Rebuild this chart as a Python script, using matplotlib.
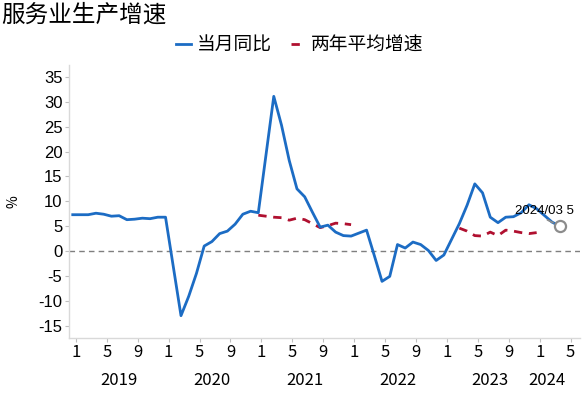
import matplotlib
matplotlib.use("Agg")
import matplotlib.pyplot as plt
import matplotlib.transforms as mtransforms
import numpy as np

plt.rcParams['font.family'] = ['Noto Sans CJK SC', 'DejaVu Sans']

# 当月同比 (Jan is merged into Feb, so no January points)
yoy_months = ['2018-12',
              '2019-02', '2019-03', '2019-04', '2019-05', '2019-06', '2019-07',
              '2019-08', '2019-09', '2019-10', '2019-11', '2019-12',
              '2020-02', '2020-03', '2020-04', '2020-05', '2020-06', '2020-07',
              '2020-08', '2020-09', '2020-10', '2020-11', '2020-12',
              '2021-02', '2021-03', '2021-04', '2021-05', '2021-06', '2021-07',
              '2021-08', '2021-09', '2021-10', '2021-11', '2021-12',
              '2022-02', '2022-03', '2022-04', '2022-05', '2022-06', '2022-07',
              '2022-08', '2022-09', '2022-10', '2022-11', '2022-12',
              '2023-02', '2023-03', '2023-04', '2023-05', '2023-06', '2023-07',
              '2023-08', '2023-09', '2023-10', '2023-11', '2023-12',
              '2024-02', '2024-03']
yoy = [7.3,
       7.3, 7.6, 7.4, 7.0, 7.1, 6.3, 6.4, 6.6, 6.5, 6.8, 6.8,
       -13.0, -9.1, -4.5, 1.0, 1.9, 3.5, 4.0, 5.4, 7.4, 8.0, 7.7,
       31.1, 25.3, 18.2, 12.5, 10.9, 7.8, 4.8, 5.2, 3.8, 3.1, 3.0,
       4.2, -0.9, -6.1, -5.1, 1.3, 0.6, 1.8, 1.3, 0.1, -1.9, -0.8,
       5.5, 9.2, 13.5, 11.7, 6.8, 5.7, 6.8, 6.9, 7.7, 9.3, 8.5,
       5.8, 5.0]

# 两年平均增速
avg_months_a = ['2020-12', '2021-02', '2021-03', '2021-04', '2021-05', '2021-06',
                '2021-07', '2021-08', '2021-09', '2021-10', '2021-11', '2021-12']
avg_a = [7.2, 6.8, 6.7, 6.2, 6.6, 6.3, 5.5, 4.7, 5.1, 5.6, 5.5, 5.3]
avg_months_b = ['2023-02', '2023-03', '2023-04', '2023-05', '2023-06', '2023-07',
                '2023-08', '2023-09', '2023-10', '2023-11', '2023-12']
avg_b = [4.6, 4.0, 3.1, 3.0, 3.8, 3.1, 4.2, 4.0, 3.7, 3.5, 3.7]

years = [2019, 2020, 2021, 2022, 2023, 2024]
month_ticks = [1, 5, 9]


def to_x(labels):
    out = []
    for s in labels:
        y, m = s.split('-')
        out.append((int(y) - 2019) * 12 + int(m) - 1 + 0.6)
    return np.array(out)


blue = '#1c6cc4'
red = '#b01030'
grey = '#d9d9d9'

fig = plt.figure(figsize=(5.87, 3.94), dpi=100)
ax = fig.add_axes([0.118, 0.142, 0.870, 0.693])

ax.axhline(0, color='#7f7f7f', lw=1.0, ls=(0, (4, 3)), zorder=1)
ax.plot(to_x(yoy_months), yoy, color=blue, lw=2.0, label='当月同比', zorder=3)
ax.plot(to_x(avg_months_a), avg_a, color=red, lw=2.0, ls=(0, (3, 2.4)),
        label='两年平均增速', zorder=2)
ax.plot(to_x(avg_months_b), avg_b, color=red, lw=2.0, ls=(0, (3, 2.4)), zorder=2)

# last point highlight
lx = to_x(yoy_months[-1:])[0]
ly = yoy[-1]
ax.plot([lx], [ly], marker='o', ms=8, mfc='white', mec='#8c8c8c', mew=1.6, zorder=6)
ax.annotate('2024/03 5', xy=(lx, ly), xytext=(-32, 6.5), textcoords='offset points',
            fontsize=9.5, family=['Liberation Sans'], ha='left', va='bottom',
            zorder=5,
            arrowprops=dict(arrowstyle='-', color='#8c8c8c', lw=1.3,
                            relpos=(0.45, 0.0), shrinkA=0, shrinkB=5.5))

ax.set_ylim(-17.5, 37.4)
ax.set_yticks(np.arange(-15, 36, 5))
ax.set_yticklabels([str(v) for v in range(-15, 36, 5)], family=['Liberation Sans'],
                   fontsize=12)
ax.set_xlim(-0.85, 65.2)

xt = [(y - 2019) * 12 + m - 1 for y in years for m in month_ticks
      if not (y == 2024 and m == 9)]
xl = [str(m) for y in years for m in month_ticks if not (y == 2024 and m == 9)]
ax.set_xticks(xt)
ax.set_xticklabels(xl, fontsize=12)

trans = mtransforms.blended_transform_factory(ax.transData, ax.transAxes)
for y in years:
    cx = (y - 2019) * 12 + 5.6 if y < 2024 else 60.9
    ax.text(cx, -0.157, str(y), transform=trans, ha='center', va='center',
            fontsize=12)

ax.tick_params(axis='both', colors='#bfbfbf', length=3, width=0.8)
for lab in ax.get_xticklabels() + ax.get_yticklabels():
    lab.set_color('black')
ax.tick_params(axis='x', pad=1)
ax.tick_params(axis='y', pad=2)

for s in ['top', 'right']:
    ax.spines[s].set_visible(False)
for s in ['left', 'bottom']:
    ax.spines[s].set_color(grey)
    ax.spines[s].set_linewidth(1.0)

ax.set_ylabel('%', fontsize=10, labelpad=13)

fig.text(0.002, 0.962, '服务业生产增速', fontsize=17, fontweight='light',
         ha='left', va='center')
fig.legend(loc='center', bbox_to_anchor=(0.511, 0.886), ncol=2, frameon=False,
           prop={'size': 13.5, 'weight': 'light'}, handlelength=0.8,
           handletextpad=0.3, columnspacing=1.0)

fig.savefig('out.png', dpi=100)
